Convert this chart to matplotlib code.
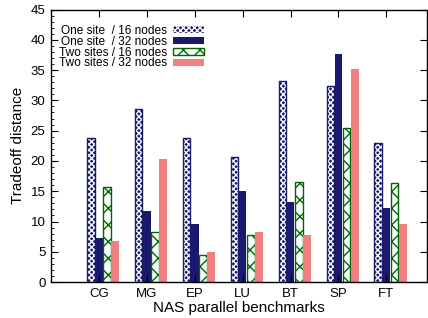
import numpy as np
import matplotlib

matplotlib.use("Agg")
import matplotlib.pyplot as plt
from matplotlib.patches import Patch
from matplotlib.ticker import MultipleLocator

plt.rcParams["font.family"] = ["Liberation Sans", "DejaVu Sans"]
plt.rcParams["hatch.linewidth"] = 1.0

benchmarks = ["CG", "MG", "EP", "LU", "BT", "SP", "FT"]
series_labels = [
    "One site  / 16 nodes",
    "One site  / 32 nodes",
    "Two sites / 16 nodes",
    "Two sites / 32 nodes",
]
one_16 = [23.8, 28.6, 23.8, 20.6, 33.2, 32.3, 23.0]
one_32 = [7.3, 11.8, 9.6, 15.1, 13.2, 37.7, 12.2]
two_16 = [15.7, 8.2, 4.5, 7.8, 16.5, 25.5, 16.3]
two_32 = [6.8, 20.4, 5.0, 8.3, 7.8, 35.1, 9.6]

navy = "#191970"
green = "#006400"
coral = "#f08080"

fig = plt.figure(figsize=(4.28, 3.18), dpi=100)
ax = fig.add_axes([0.119, 0.113, 0.879, 0.857])

x = np.arange(1, len(benchmarks) + 1)
w = 0.16
offs = [-0.17, 0.0, 0.17, 0.34]

# one site / 16 nodes: navy with fine white checker pattern
ax.bar(x + offs[0], one_16, w, color=navy, edgecolor="white", hatch="xxxxxx", linewidth=0)
ax.bar(x + offs[0], one_16, w, fill=False, edgecolor=navy, linewidth=1.0)
ax.bar(x + offs[1], one_32, w, color=navy, linewidth=0)
ax.bar(x + offs[2], two_16, w, facecolor="white", edgecolor=green, hatch="xx", linewidth=1.0)
ax.bar(x + offs[3], two_32, w, color=coral, linewidth=0)

handles = [
    Patch(facecolor=navy, edgecolor="white", hatch="xxxxxx", linewidth=0),
    Patch(facecolor=navy, linewidth=0),
    Patch(facecolor="white", edgecolor=green, hatch="xx", linewidth=1.0),
    Patch(facecolor=coral, linewidth=0),
]
ax.legend(handles, series_labels, loc="upper left", bbox_to_anchor=(0.022, 0.943),
          markerfirst=False, frameon=False, fontsize=8.6, handlelength=2.6,
          handleheight=0.5, labelspacing=-0.1, handletextpad=0.5,
          borderpad=0, borderaxespad=0)

ax.set_xlim(0, 7.85)
ax.set_ylim(0, 45)
ax.set_xticks(x)
ax.set_xticklabels(benchmarks)
ax.yaxis.set_major_locator(MultipleLocator(5))
ax.yaxis.set_minor_locator(MultipleLocator(1))
ax.tick_params(axis="both", which="both", direction="in", top=True, right=True,
               labelsize=9.5, pad=4)
ax.tick_params(axis="y", which="major", length=5)
ax.tick_params(axis="y", which="minor", length=2.5, right=False)
ax.tick_params(axis="x", which="major", length=5)
for s in ax.spines.values():
    s.set_linewidth(1.0)

ax.set_xlabel("NAS parallel benchmarks", fontsize=11, labelpad=1)
ax.set_ylabel("Tradeoff distance", fontsize=11, labelpad=4)

fig.savefig("out.png", dpi=100)
